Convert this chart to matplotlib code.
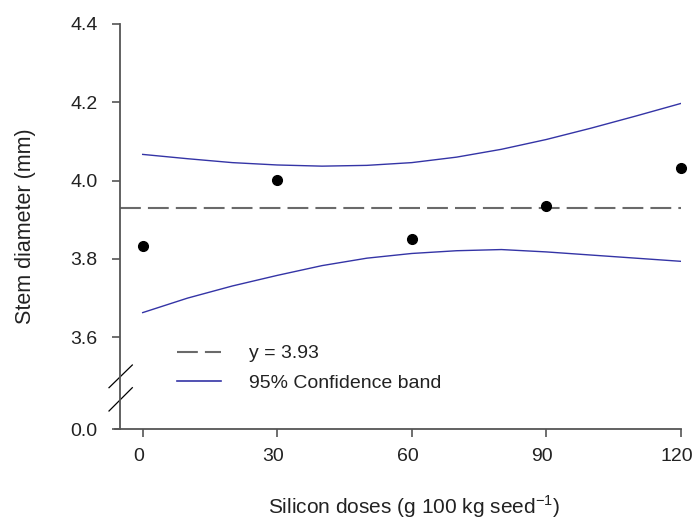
import matplotlib
matplotlib.use("Agg")
import matplotlib.pyplot as plt
import matplotlib.transforms as mtransforms
from matplotlib.lines import Line2D

plt.rcParams["font.family"] = ["Liberation Sans", "DejaVu Sans"]

# Observed stem diameter at each silicon dose
doses = [0, 30, 60, 90, 120]
stem_diameter = [3.834, 4.001, 3.851, 3.934, 4.032]
mean_value = 3.93

# 95% confidence band around the fitted response
band_x = [0, 10, 20, 30, 40, 50, 60, 70, 80, 90, 100, 110, 120]
band_upper = [4.067, 4.056, 4.046, 4.040, 4.037, 4.039, 4.046, 4.060,
              4.080, 4.105, 4.134, 4.165, 4.197]
band_lower = [3.663, 3.700, 3.731, 3.758, 3.783, 3.802, 3.814, 3.821,
              3.824, 3.818, 3.810, 3.802, 3.794]

xticks = [0, 30, 60, 90, 120]
yticks = [3.6, 3.8, 4.0, 4.2, 4.4]
ytick_labels = ["3.6", "3.8", "4.0", "4.2", "4.4"]
zero_label = "0.0"

W, H = 694, 519
fig = plt.figure(figsize=(W / 100, H / 100), dpi=100)
left, right, top, bottom = 120, 680.7, 24, 429
ax = fig.add_axes([left / W, 1 - bottom / H, (right - left) / W, (bottom - top) / H])

# broken y axis: the zero tick sits a little below the 3.6 tick
y_zero_pos = 3.6 - 0.2 * (429 - 337.3) / 78.3
ax.set_ylim(y_zero_pos, 4.4)
ax.set_xlim(-22.7 / 4.485, 120)

band_color = "#3434a6"
dash_style = (10, 3.4)
ax.axhline(mean_value, color="#6a6a6a", lw=1.5, dashes=dash_style)
ax.plot(band_x, band_upper, color=band_color, lw=1.0)
ax.plot(band_x, band_lower, color=band_color, lw=1.0)
ax.plot(doses, stem_diameter, "o", color="black", ms=7, zorder=5, clip_on=False)

ax.set_xticks(xticks)
ax.set_xticklabels([str(v) for v in xticks])
ax.set_yticks([y_zero_pos] + yticks)
ax.set_yticklabels([zero_label] + ytick_labels)

for s in ["top", "right"]:
    ax.spines[s].set_visible(False)
for s in ["left", "bottom"]:
    ax.spines[s].set_color("#555555")
    ax.spines[s].set_linewidth(1.3)

ax.tick_params(axis="both", colors="#555555", labelcolor="#222222",
               labelsize=14, width=1.2, length=6)
ax.tick_params(axis="x", pad=8)
ax.tick_params(axis="y", pad=10)

# nudge the x tick labels slightly left
shift = mtransforms.ScaledTranslation(-4 / 100, 0, fig.dpi_scale_trans)
for lab in ax.get_xticklabels():
    lab.set_transform(lab.get_transform() + shift)

# small overhang of the x axis to the left of the y axis
ax.plot([-0.009, 0], [0, 0], transform=ax.transAxes, color="#555555",
        lw=1.3, clip_on=False)

# axis break marks
bx0, bx1 = (109 - left) / (right - left), (132.3 - left) / (right - left)
def yf(py):
    return (bottom - py) / (bottom - top)
ax.plot([bx0, bx1], [yf(387.7), yf(365)], transform=ax.transAxes,
        color="black", lw=0.9, clip_on=False)
ax.plot([bx0, bx1], [yf(411), yf(387.7)], transform=ax.transAxes,
        color="black", lw=0.9, clip_on=False)

ax.set_ylabel("Stem diameter (mm)", fontsize=15.5, color="#222222")
ax.yaxis.set_label_coords((36 - left) / (right - left), 0.5)
ax.set_xlabel("Silicon doses (g 100 kg seed$^{\\mathregular{-1}}$)",
              fontsize=15, color="#222222")
ax.xaxis.set_label_coords((413.7 - left) / (right - left), yf(493))

handles = [Line2D([], [], color="#6a6a6a", lw=1.5, dashes=dash_style),
           Line2D([], [], color=band_color, lw=1.2)]
ax.legend(handles, ["y = 3.93", "95% Confidence band"], loc="center left",
          bbox_to_anchor=((176.7 - left) / (right - left), yf(368.5)),
          frameon=False, fontsize=14, handlelength=2.3, handletextpad=1.4,
          labelspacing=0.62, borderpad=0, borderaxespad=0,
          labelcolor="#222222")

fig.savefig("out.png", dpi=100)
